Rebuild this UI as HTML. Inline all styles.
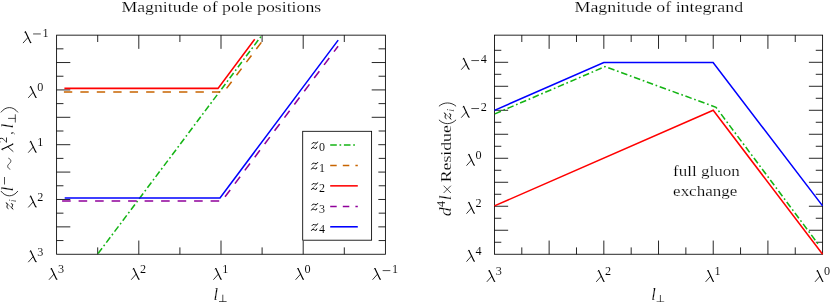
<!DOCTYPE html>
<html><head><meta charset="utf-8"><title>plots</title>
<style>
html,body{margin:0;padding:0;background:#fff;}
svg{display:block;will-change:transform;}
text{font-family:"Liberation Serif",serif;font-size:15.5px;fill:#000;stroke:#fff;stroke-width:0.18px;}
.rm{font-style:normal;}
.rmi{font-style:normal;}
.it{font-style:italic;}
.su{font-style:normal;font-size:12.0px;stroke-width:0.08px;}
.ax{fill:none;stroke:#000;stroke-width:0.85;}
.lm0{fill:none;stroke:#000;stroke-width:0.6;stroke-linecap:round;}
.lm1{fill:none;stroke:#000;stroke-width:1.15;stroke-linecap:round;}
.lm2{fill:none;stroke:#000;stroke-width:0.8;stroke-linecap:round;}
.zg1{fill:none;stroke:#000;stroke-width:0.9;stroke-linecap:round;}
.zg2{fill:none;stroke:#000;stroke-width:0.5;stroke-linecap:round;}
.pn{fill:none;stroke:#000;stroke-width:0.8;stroke-linecap:round;}
.mn{fill:none;stroke:#000;stroke-width:0.7;}
.cv{fill:none;stroke-width:1.55;stroke-linejoin:miter;stroke-linecap:butt;}
</style></head>
<body>
<svg width="830" height="302" viewBox="0 0 830 302">
<rect x="0" y="0" width="830" height="302" fill="#fff"/>
<g id="axes">
<rect class="ax" x="56.60" y="35.15" width="328.80" height="219.10"/>
<line class="ax" x1="97.70" y1="254.25" x2="97.70" y2="247.40"/>
<line class="ax" x1="97.70" y1="35.15" x2="97.70" y2="42.00"/>
<line class="ax" x1="138.80" y1="254.25" x2="138.80" y2="240.55"/>
<line class="ax" x1="138.80" y1="35.15" x2="138.80" y2="48.85"/>
<line class="ax" x1="179.90" y1="254.25" x2="179.90" y2="247.40"/>
<line class="ax" x1="179.90" y1="35.15" x2="179.90" y2="42.00"/>
<line class="ax" x1="221.00" y1="254.25" x2="221.00" y2="240.55"/>
<line class="ax" x1="221.00" y1="35.15" x2="221.00" y2="48.85"/>
<line class="ax" x1="262.10" y1="254.25" x2="262.10" y2="247.40"/>
<line class="ax" x1="262.10" y1="35.15" x2="262.10" y2="42.00"/>
<line class="ax" x1="303.20" y1="254.25" x2="303.20" y2="240.55"/>
<line class="ax" x1="303.20" y1="35.15" x2="303.20" y2="48.85"/>
<line class="ax" x1="344.30" y1="254.25" x2="344.30" y2="247.40"/>
<line class="ax" x1="344.30" y1="35.15" x2="344.30" y2="42.00"/>
<line class="ax" x1="56.60" y1="48.84" x2="63.45" y2="48.84"/>
<line class="ax" x1="385.40" y1="48.84" x2="378.55" y2="48.84"/>
<line class="ax" x1="56.60" y1="62.54" x2="70.30" y2="62.54"/>
<line class="ax" x1="385.40" y1="62.54" x2="371.70" y2="62.54"/>
<line class="ax" x1="56.60" y1="76.23" x2="63.45" y2="76.23"/>
<line class="ax" x1="385.40" y1="76.23" x2="378.55" y2="76.23"/>
<line class="ax" x1="56.60" y1="89.92" x2="70.30" y2="89.92"/>
<line class="ax" x1="385.40" y1="89.92" x2="371.70" y2="89.92"/>
<line class="ax" x1="56.60" y1="103.62" x2="63.45" y2="103.62"/>
<line class="ax" x1="385.40" y1="103.62" x2="378.55" y2="103.62"/>
<line class="ax" x1="56.60" y1="117.31" x2="70.30" y2="117.31"/>
<line class="ax" x1="385.40" y1="117.31" x2="371.70" y2="117.31"/>
<line class="ax" x1="56.60" y1="131.01" x2="63.45" y2="131.01"/>
<line class="ax" x1="385.40" y1="131.01" x2="378.55" y2="131.01"/>
<line class="ax" x1="56.60" y1="144.70" x2="70.30" y2="144.70"/>
<line class="ax" x1="385.40" y1="144.70" x2="371.70" y2="144.70"/>
<line class="ax" x1="56.60" y1="158.39" x2="63.45" y2="158.39"/>
<line class="ax" x1="385.40" y1="158.39" x2="378.55" y2="158.39"/>
<line class="ax" x1="56.60" y1="172.09" x2="70.30" y2="172.09"/>
<line class="ax" x1="385.40" y1="172.09" x2="371.70" y2="172.09"/>
<line class="ax" x1="56.60" y1="185.78" x2="63.45" y2="185.78"/>
<line class="ax" x1="385.40" y1="185.78" x2="378.55" y2="185.78"/>
<line class="ax" x1="56.60" y1="199.47" x2="70.30" y2="199.47"/>
<line class="ax" x1="385.40" y1="199.47" x2="371.70" y2="199.47"/>
<line class="ax" x1="56.60" y1="213.17" x2="63.45" y2="213.17"/>
<line class="ax" x1="385.40" y1="213.17" x2="378.55" y2="213.17"/>
<line class="ax" x1="56.60" y1="226.86" x2="70.30" y2="226.86"/>
<line class="ax" x1="385.40" y1="226.86" x2="371.70" y2="226.86"/>
<line class="ax" x1="56.60" y1="240.56" x2="63.45" y2="240.56"/>
<line class="ax" x1="385.40" y1="240.56" x2="378.55" y2="240.56"/>
<rect class="ax" x="494.45" y="35.15" width="328.15" height="219.10"/>
<line class="ax" x1="521.80" y1="254.25" x2="521.80" y2="247.40"/>
<line class="ax" x1="521.80" y1="35.15" x2="521.80" y2="42.00"/>
<line class="ax" x1="549.14" y1="254.25" x2="549.14" y2="240.55"/>
<line class="ax" x1="549.14" y1="35.15" x2="549.14" y2="48.85"/>
<line class="ax" x1="576.49" y1="254.25" x2="576.49" y2="247.40"/>
<line class="ax" x1="576.49" y1="35.15" x2="576.49" y2="42.00"/>
<line class="ax" x1="603.83" y1="254.25" x2="603.83" y2="240.55"/>
<line class="ax" x1="603.83" y1="35.15" x2="603.83" y2="48.85"/>
<line class="ax" x1="631.18" y1="254.25" x2="631.18" y2="247.40"/>
<line class="ax" x1="631.18" y1="35.15" x2="631.18" y2="42.00"/>
<line class="ax" x1="658.52" y1="254.25" x2="658.52" y2="240.55"/>
<line class="ax" x1="658.52" y1="35.15" x2="658.52" y2="48.85"/>
<line class="ax" x1="685.87" y1="254.25" x2="685.87" y2="247.40"/>
<line class="ax" x1="685.87" y1="35.15" x2="685.87" y2="42.00"/>
<line class="ax" x1="713.22" y1="254.25" x2="713.22" y2="240.55"/>
<line class="ax" x1="713.22" y1="35.15" x2="713.22" y2="48.85"/>
<line class="ax" x1="740.56" y1="254.25" x2="740.56" y2="247.40"/>
<line class="ax" x1="740.56" y1="35.15" x2="740.56" y2="42.00"/>
<line class="ax" x1="767.91" y1="254.25" x2="767.91" y2="240.55"/>
<line class="ax" x1="767.91" y1="35.15" x2="767.91" y2="48.85"/>
<line class="ax" x1="795.25" y1="254.25" x2="795.25" y2="247.40"/>
<line class="ax" x1="795.25" y1="35.15" x2="795.25" y2="42.00"/>
<line class="ax" x1="494.45" y1="242.25" x2="501.30" y2="242.25"/>
<line class="ax" x1="822.60" y1="242.25" x2="815.75" y2="242.25"/>
<line class="ax" x1="494.45" y1="230.26" x2="508.15" y2="230.26"/>
<line class="ax" x1="822.60" y1="230.26" x2="808.90" y2="230.26"/>
<line class="ax" x1="494.45" y1="218.26" x2="501.30" y2="218.26"/>
<line class="ax" x1="822.60" y1="218.26" x2="815.75" y2="218.26"/>
<line class="ax" x1="494.45" y1="206.26" x2="508.15" y2="206.26"/>
<line class="ax" x1="822.60" y1="206.26" x2="808.90" y2="206.26"/>
<line class="ax" x1="494.45" y1="194.27" x2="501.30" y2="194.27"/>
<line class="ax" x1="822.60" y1="194.27" x2="815.75" y2="194.27"/>
<line class="ax" x1="494.45" y1="182.27" x2="508.15" y2="182.27"/>
<line class="ax" x1="822.60" y1="182.27" x2="808.90" y2="182.27"/>
<line class="ax" x1="494.45" y1="170.27" x2="501.30" y2="170.27"/>
<line class="ax" x1="822.60" y1="170.27" x2="815.75" y2="170.27"/>
<line class="ax" x1="494.45" y1="158.28" x2="508.15" y2="158.28"/>
<line class="ax" x1="822.60" y1="158.28" x2="808.90" y2="158.28"/>
<line class="ax" x1="494.45" y1="146.28" x2="501.30" y2="146.28"/>
<line class="ax" x1="822.60" y1="146.28" x2="815.75" y2="146.28"/>
<line class="ax" x1="494.45" y1="134.28" x2="508.15" y2="134.28"/>
<line class="ax" x1="822.60" y1="134.28" x2="808.90" y2="134.28"/>
<line class="ax" x1="494.45" y1="122.28" x2="501.30" y2="122.28"/>
<line class="ax" x1="822.60" y1="122.28" x2="815.75" y2="122.28"/>
<line class="ax" x1="494.45" y1="110.29" x2="508.15" y2="110.29"/>
<line class="ax" x1="822.60" y1="110.29" x2="808.90" y2="110.29"/>
<line class="ax" x1="494.45" y1="98.29" x2="501.30" y2="98.29"/>
<line class="ax" x1="822.60" y1="98.29" x2="815.75" y2="98.29"/>
<line class="ax" x1="494.45" y1="86.29" x2="508.15" y2="86.29"/>
<line class="ax" x1="822.60" y1="86.29" x2="808.90" y2="86.29"/>
<line class="ax" x1="494.45" y1="74.30" x2="501.30" y2="74.30"/>
<line class="ax" x1="822.60" y1="74.30" x2="815.75" y2="74.30"/>
<line class="ax" x1="494.45" y1="62.30" x2="508.15" y2="62.30"/>
<line class="ax" x1="822.60" y1="62.30" x2="808.90" y2="62.30"/>
<line class="ax" x1="494.45" y1="50.30" x2="501.30" y2="50.30"/>
<line class="ax" x1="822.60" y1="50.30" x2="815.75" y2="50.30"/>
</g>
<g id="curves-left">
<path class="cv" d="M97.60 254.20 L260.90 36.60" stroke="#14b414" stroke-dasharray="6.6 2.7 1.7 2.7" stroke-dashoffset="-0.8"/>
<path class="cv" d="M63.90 92.05 L223.80 92.05 L261.40 42.30" stroke="#c86400" stroke-dasharray="8.35 8.1"/>
<path class="cv" d="M64.40 88.35 L218.00 88.35 L254.70 39.30" stroke="#ff0000"/>
<path class="cv" d="M62.10 200.95 L221.90 200.95 L338.10 46.20" stroke="#90009a" stroke-dasharray="8.6 7.9"/>
<path class="cv" d="M64.70 197.95 L220.00 197.95 L338.20 40.10" stroke="#0000ff"/>
</g>
<g id="curves-right">
<path class="cv" d="M494.45 114.10 L605.00 66.60 L716.00 107.30 L819.40 245.70" stroke="#14b414" stroke-dasharray="6.6 2.7 1.7 2.7" stroke-dashoffset="-0.5"/>
<path class="cv" d="M494.45 205.90 L713.20 110.30 L822.60 254.25" stroke="#ff0000"/>
<path class="cv" d="M494.45 110.40 L603.80 62.55 L713.10 62.55 L822.60 205.90" stroke="#0000ff"/>
</g>
<g id="legend">
<rect x="302.3" y="130.9" width="76.0" height="109.7" fill="#fff" stroke="none"/>
<rect class="ax" x="302.7" y="131.3" width="68.9" height="108.9"/>
<path class="cv" d="M330.20 144.90 L356.60 144.90" stroke="#14b414" stroke-dasharray="6.6 2.7 1.7 2.7"/>
<path class="cv" d="M330.20 165.40 L357.80 165.40" stroke="#c86400" stroke-dasharray="6.5 6.1"/>
<path class="cv" d="M330.20 185.85 L357.80 185.85" stroke="#ff0000"/>
<path class="cv" d="M330.20 206.40 L357.80 206.40" stroke="#90009a" stroke-dasharray="6.5 6.1"/>
<path class="cv" d="M330.20 226.80 L357.80 226.80" stroke="#0000ff"/>
<g transform="translate(311.00,149.00)"><path class="zg1" d="M0.9 -5.2 Q1.9 -7.3 3.6 -6.2 T6.6 -6.9"/><path class="zg2" d="M6.8 -7.0 L0.3 -0.3"/><path class="zg1" d="M0.5 -0.7 Q1.9 -2.5 3.6 -0.9 T5.9 -2.0"/></g>
<text class="su" x="319.0" y="151.30">0</text>
<g transform="translate(311.00,169.50)"><path class="zg1" d="M0.9 -5.2 Q1.9 -7.3 3.6 -6.2 T6.6 -6.9"/><path class="zg2" d="M6.8 -7.0 L0.3 -0.3"/><path class="zg1" d="M0.5 -0.7 Q1.9 -2.5 3.6 -0.9 T5.9 -2.0"/></g>
<text class="su" x="319.0" y="171.80">1</text>
<g transform="translate(311.00,189.95)"><path class="zg1" d="M0.9 -5.2 Q1.9 -7.3 3.6 -6.2 T6.6 -6.9"/><path class="zg2" d="M6.8 -7.0 L0.3 -0.3"/><path class="zg1" d="M0.5 -0.7 Q1.9 -2.5 3.6 -0.9 T5.9 -2.0"/></g>
<text class="su" x="319.0" y="192.25">2</text>
<g transform="translate(311.00,210.50)"><path class="zg1" d="M0.9 -5.2 Q1.9 -7.3 3.6 -6.2 T6.6 -6.9"/><path class="zg2" d="M6.8 -7.0 L0.3 -0.3"/><path class="zg1" d="M0.5 -0.7 Q1.9 -2.5 3.6 -0.9 T5.9 -2.0"/></g>
<text class="su" x="319.0" y="212.80">3</text>
<g transform="translate(311.00,230.90)"><path class="zg1" d="M0.9 -5.2 Q1.9 -7.3 3.6 -6.2 T6.6 -6.9"/><path class="zg2" d="M6.8 -7.0 L0.3 -0.3"/><path class="zg1" d="M0.5 -0.7 Q1.9 -2.5 3.6 -0.9 T5.9 -2.0"/></g>
<text class="su" x="319.0" y="233.20">4</text>
</g>
<g id="labels">
<text class="rm" x="121.4" y="11.9" textLength="199.8" lengthAdjust="spacingAndGlyphs">Magnitude of pole positions</text>
<text class="rm" x="574.5" y="11.9" textLength="168.6" lengthAdjust="spacingAndGlyphs">Magnitude of integrand</text>
<g transform="translate(48.90,279.70)"><path class="lm0" d="M1.6 -10.8 Q2.0 -11.5 2.7 -11.2"/><path class="lm1" d="M2.5 -11.2 L7.35 -1.0 Q7.6 -0.4 8.0 -0.5"/><path class="lm2" d="M5.0 -5.5 L0.35 -0.25"/></g>
<text class="su" x="57.90" y="273.20" textLength="6.1" lengthAdjust="spacingAndGlyphs">3</text>
<g transform="translate(131.10,279.70)"><path class="lm0" d="M1.6 -10.8 Q2.0 -11.5 2.7 -11.2"/><path class="lm1" d="M2.5 -11.2 L7.35 -1.0 Q7.6 -0.4 8.0 -0.5"/><path class="lm2" d="M5.0 -5.5 L0.35 -0.25"/></g>
<text class="su" x="140.10" y="273.20" textLength="6.1" lengthAdjust="spacingAndGlyphs">2</text>
<g transform="translate(213.30,279.70)"><path class="lm0" d="M1.6 -10.8 Q2.0 -11.5 2.7 -11.2"/><path class="lm1" d="M2.5 -11.2 L7.35 -1.0 Q7.6 -0.4 8.0 -0.5"/><path class="lm2" d="M5.0 -5.5 L0.35 -0.25"/></g>
<text class="su" x="222.30" y="273.20" textLength="6.1" lengthAdjust="spacingAndGlyphs">1</text>
<g transform="translate(295.50,279.70)"><path class="lm0" d="M1.6 -10.8 Q2.0 -11.5 2.7 -11.2"/><path class="lm1" d="M2.5 -11.2 L7.35 -1.0 Q7.6 -0.4 8.0 -0.5"/><path class="lm2" d="M5.0 -5.5 L0.35 -0.25"/></g>
<text class="su" x="304.50" y="273.20" textLength="6.1" lengthAdjust="spacingAndGlyphs">0</text>
<g transform="translate(372.45,279.70)"><path class="lm0" d="M1.6 -10.8 Q2.0 -11.5 2.7 -11.2"/><path class="lm1" d="M2.5 -11.2 L7.35 -1.0 Q7.6 -0.4 8.0 -0.5"/><path class="lm2" d="M5.0 -5.5 L0.35 -0.25"/></g>
<line class="mn" x1="382.65" y1="270.60" x2="390.35" y2="270.60"/>
<text class="su" x="391.95" y="273.20" textLength="6.1" lengthAdjust="spacingAndGlyphs">1</text>
<g transform="translate(22.90,43.05)"><path class="lm0" d="M1.6 -10.8 Q2.0 -11.5 2.7 -11.2"/><path class="lm1" d="M2.5 -11.2 L7.35 -1.0 Q7.6 -0.4 8.0 -0.5"/><path class="lm2" d="M5.0 -5.5 L0.35 -0.25"/></g>
<line class="mn" x1="33.10" y1="33.95" x2="40.80" y2="33.95"/>
<text class="su" x="42.40" y="36.55" textLength="6.1" lengthAdjust="spacingAndGlyphs">1</text>
<g transform="translate(28.15,97.83)"><path class="lm0" d="M1.6 -10.8 Q2.0 -11.5 2.7 -11.2"/><path class="lm1" d="M2.5 -11.2 L7.35 -1.0 Q7.6 -0.4 8.0 -0.5"/><path class="lm2" d="M5.0 -5.5 L0.35 -0.25"/></g>
<text class="su" x="37.15" y="91.33" textLength="6.1" lengthAdjust="spacingAndGlyphs">0</text>
<g transform="translate(28.15,152.60)"><path class="lm0" d="M1.6 -10.8 Q2.0 -11.5 2.7 -11.2"/><path class="lm1" d="M2.5 -11.2 L7.35 -1.0 Q7.6 -0.4 8.0 -0.5"/><path class="lm2" d="M5.0 -5.5 L0.35 -0.25"/></g>
<text class="su" x="37.15" y="146.10" textLength="6.1" lengthAdjust="spacingAndGlyphs">1</text>
<g transform="translate(28.15,207.38)"><path class="lm0" d="M1.6 -10.8 Q2.0 -11.5 2.7 -11.2"/><path class="lm1" d="M2.5 -11.2 L7.35 -1.0 Q7.6 -0.4 8.0 -0.5"/><path class="lm2" d="M5.0 -5.5 L0.35 -0.25"/></g>
<text class="su" x="37.15" y="200.88" textLength="6.1" lengthAdjust="spacingAndGlyphs">2</text>
<g transform="translate(28.15,262.15)"><path class="lm0" d="M1.6 -10.8 Q2.0 -11.5 2.7 -11.2"/><path class="lm1" d="M2.5 -11.2 L7.35 -1.0 Q7.6 -0.4 8.0 -0.5"/><path class="lm2" d="M5.0 -5.5 L0.35 -0.25"/></g>
<text class="su" x="37.15" y="255.65" textLength="6.1" lengthAdjust="spacingAndGlyphs">3</text>
<g transform="translate(486.75,281.80)"><path class="lm0" d="M1.6 -10.8 Q2.0 -11.5 2.7 -11.2"/><path class="lm1" d="M2.5 -11.2 L7.35 -1.0 Q7.6 -0.4 8.0 -0.5"/><path class="lm2" d="M5.0 -5.5 L0.35 -0.25"/></g>
<text class="su" x="495.75" y="275.30" textLength="6.1" lengthAdjust="spacingAndGlyphs">3</text>
<g transform="translate(596.13,281.80)"><path class="lm0" d="M1.6 -10.8 Q2.0 -11.5 2.7 -11.2"/><path class="lm1" d="M2.5 -11.2 L7.35 -1.0 Q7.6 -0.4 8.0 -0.5"/><path class="lm2" d="M5.0 -5.5 L0.35 -0.25"/></g>
<text class="su" x="605.13" y="275.30" textLength="6.1" lengthAdjust="spacingAndGlyphs">2</text>
<g transform="translate(705.52,281.80)"><path class="lm0" d="M1.6 -10.8 Q2.0 -11.5 2.7 -11.2"/><path class="lm1" d="M2.5 -11.2 L7.35 -1.0 Q7.6 -0.4 8.0 -0.5"/><path class="lm2" d="M5.0 -5.5 L0.35 -0.25"/></g>
<text class="su" x="714.52" y="275.30" textLength="6.1" lengthAdjust="spacingAndGlyphs">1</text>
<g transform="translate(814.90,281.80)"><path class="lm0" d="M1.6 -10.8 Q2.0 -11.5 2.7 -11.2"/><path class="lm1" d="M2.5 -11.2 L7.35 -1.0 Q7.6 -0.4 8.0 -0.5"/><path class="lm2" d="M5.0 -5.5 L0.35 -0.25"/></g>
<text class="su" x="823.90" y="275.30" textLength="6.1" lengthAdjust="spacingAndGlyphs">0</text>
<g transform="translate(461.15,69.65)"><path class="lm0" d="M1.6 -10.8 Q2.0 -11.5 2.7 -11.2"/><path class="lm1" d="M2.5 -11.2 L7.35 -1.0 Q7.6 -0.4 8.0 -0.5"/><path class="lm2" d="M5.0 -5.5 L0.35 -0.25"/></g>
<line class="mn" x1="471.35" y1="60.55" x2="479.05" y2="60.55"/>
<text class="su" x="480.65" y="63.15" textLength="6.1" lengthAdjust="spacingAndGlyphs">4</text>
<g transform="translate(461.15,117.64)"><path class="lm0" d="M1.6 -10.8 Q2.0 -11.5 2.7 -11.2"/><path class="lm1" d="M2.5 -11.2 L7.35 -1.0 Q7.6 -0.4 8.0 -0.5"/><path class="lm2" d="M5.0 -5.5 L0.35 -0.25"/></g>
<line class="mn" x1="471.35" y1="108.54" x2="479.05" y2="108.54"/>
<text class="su" x="480.65" y="111.14" textLength="6.1" lengthAdjust="spacingAndGlyphs">2</text>
<g transform="translate(466.40,165.62)"><path class="lm0" d="M1.6 -10.8 Q2.0 -11.5 2.7 -11.2"/><path class="lm1" d="M2.5 -11.2 L7.35 -1.0 Q7.6 -0.4 8.0 -0.5"/><path class="lm2" d="M5.0 -5.5 L0.35 -0.25"/></g>
<text class="su" x="475.40" y="159.12" textLength="6.1" lengthAdjust="spacingAndGlyphs">0</text>
<g transform="translate(466.40,213.61)"><path class="lm0" d="M1.6 -10.8 Q2.0 -11.5 2.7 -11.2"/><path class="lm1" d="M2.5 -11.2 L7.35 -1.0 Q7.6 -0.4 8.0 -0.5"/><path class="lm2" d="M5.0 -5.5 L0.35 -0.25"/></g>
<text class="su" x="475.40" y="207.11" textLength="6.1" lengthAdjust="spacingAndGlyphs">2</text>
<g transform="translate(466.40,261.60)"><path class="lm0" d="M1.6 -10.8 Q2.0 -11.5 2.7 -11.2"/><path class="lm1" d="M2.5 -11.2 L7.35 -1.0 Q7.6 -0.4 8.0 -0.5"/><path class="lm2" d="M5.0 -5.5 L0.35 -0.25"/></g>
<text class="su" x="475.40" y="255.10" textLength="6.1" lengthAdjust="spacingAndGlyphs">4</text>
<text class="it" style="font-size:16.4px" x="213.60" y="299.60">l</text>
<path class="mn" d="M222.80 294.70 V301.80 M219.00 301.60 H226.60"/>
<text class="it" style="font-size:16.4px" x="651.20" y="299.90">l</text>
<path class="mn" d="M660.40 295.00 V302.10 M656.60 301.90 H664.20"/>
<g id="ylabel-left" transform="translate(13.3,209.5) rotate(-90)">
<g transform="translate(0.00,0.00)"><path class="zg1" d="M0.9 -5.2 Q1.9 -7.3 3.6 -6.2 T6.6 -6.9"/><path class="zg2" d="M6.8 -7.0 L0.3 -0.3"/><path class="zg1" d="M0.5 -0.7 Q1.9 -2.5 3.6 -0.9 T5.9 -2.0"/></g>
<text class="it" style="font-size:10.8px" x="7.20" y="2.60">i</text>
<path class="pn" d="M18.20 -12.2 C12.07 -7.6 12.07 -0.2 18.20 4.4"/>
<text class="it" style="font-size:16.4px" x="18.30" y="0.00">l</text>
<line class="mn" x1="25.0" y1="-8.8" x2="32.5" y2="-8.8"/>
<path class="mn" d="M40.2 -3.0 C41.6 -6.4 44.2 -6.2 45.8 -4.1 S49.9 -1.5 51.4 -5.0"/>
<g transform="translate(57.70,0.00)"><path class="lm0" d="M1.6 -10.8 Q2.0 -11.5 2.7 -11.2"/><path class="lm1" d="M2.5 -11.2 L7.35 -1.0 Q7.6 -0.4 8.0 -0.5"/><path class="lm2" d="M5.0 -5.5 L0.35 -0.25"/></g>
<text class="su" x="66.60" y="-5.90" textLength="6.1" lengthAdjust="spacingAndGlyphs">2</text>
<text class="rm" x="74.6" y="0">,</text>
<text class="it" style="font-size:16.4px" x="81.30" y="0.00">l</text>
<path class="mn" d="M91.1 -5.2 V2.2 M87.0 2.0 H95.2"/>
<path class="pn" d="M97.40 -12.2 C103.53 -7.6 103.53 -0.2 97.40 4.4"/>
</g>
<g id="ylabel-right" transform="translate(451.4,216.4) rotate(-90)">
<text class="it" style="font-size:16.4px" x="0.2" y="0" textLength="9.0" lengthAdjust="spacingAndGlyphs">d</text>
<text class="su" x="9.30" y="-6.40" textLength="6.1" lengthAdjust="spacingAndGlyphs">4</text>
<text class="it" style="font-size:16.4px" x="16.40" y="0.00">l</text>
<path class="mn" d="M23.4 -7.8 L30.7 -0.5 M23.4 -0.5 L30.7 -7.8"/>
<text class="rm" x="34.2" y="0" textLength="57.0" lengthAdjust="spacingAndGlyphs">Residue</text>
<path class="pn" d="M96.30 -12.2 C91.50 -7.6 91.50 -0.2 96.30 4.4"/>
<g transform="translate(96.80,0.00)"><path class="zg1" d="M0.9 -5.2 Q1.9 -7.3 3.6 -6.2 T6.6 -6.9"/><path class="zg2" d="M6.8 -7.0 L0.3 -0.3"/><path class="zg1" d="M0.5 -0.7 Q1.9 -2.5 3.6 -0.9 T5.9 -2.0"/></g>
<text class="it" style="font-size:10.8px" x="104.60" y="2.60">i</text>
<path class="pn" d="M110.40 -12.2 C114.53 -7.6 114.53 -0.2 110.40 4.4"/>
</g>
<text class="rm" x="673.1" y="176.1" textLength="66.6" lengthAdjust="spacingAndGlyphs">full gluon</text>
<text class="rm" x="673.1" y="196.2" textLength="64.1" lengthAdjust="spacingAndGlyphs">exchange</text>
</g>
</svg>
</body></html>
